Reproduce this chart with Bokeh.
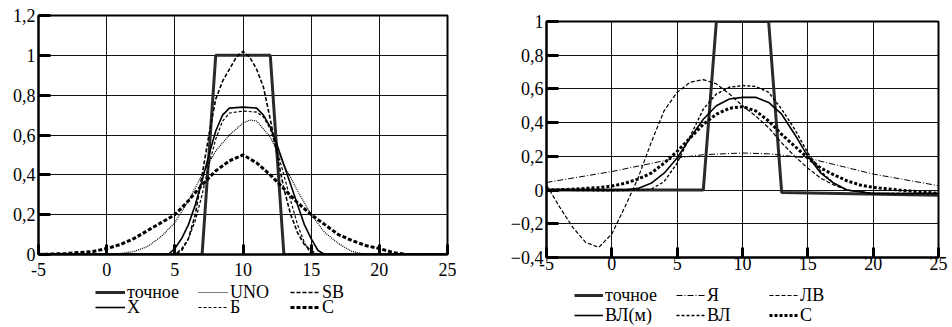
from bokeh.plotting import figure
from bokeh.layouts import row, column
from bokeh.models import FixedTicker, Legend, LegendItem
from bokeh.embed import file_html
from bokeh.resources import INLINE

FONT = "Liberation Serif"
NAN = float("nan")

# ---------------- data: left panel ----------------
x_ticks = [-5, 0, 5, 10, 15, 20, 25]
x_labels = ["-5", "0", "5", "10", "15", "20", "25"]
yl_ticks = [0, 0.2, 0.4, 0.6, 0.8, 1, 1.2]
yl_labels = ["0", "0,2", "0,4", "0,6", "0,8", "1", "1,2"]

lx_exact = [-5, 7, 8, 12, 13, 25]
ly_exact = [0, 0, 1, 1, 0, 0]

lx_uno = [-5, 0, 1, 2, 3, 4, 5, 6, 7, 8, 9, 10, 10.5, 11, 12, 13, 14, 15, 16, 17, 18, 19, 25]
ly_uno = [0, 0, 0.005, 0.015, 0.04, 0.09, 0.16, 0.27, 0.4, 0.52, 0.6, 0.66, 0.675, 0.67, 0.59, 0.45, 0.32, 0.2, 0.11, 0.055, 0.015, 0, 0]

lx_sb = [-5, 5, 5.5, 6, 6.5, 7, 7.5, 8, 8.5, 9, 9.5, 10, 10.5, 11, 11.5, 12, 12.5, 13, 13.5, 14, 14.5, 15, 15.5, 25]
ly_sb = [0, 0, 0.02, 0.08, 0.2, 0.4, 0.6, 0.78, 0.87, 0.93, 0.99, 1.02, 0.99, 0.93, 0.84, 0.68, 0.5, 0.33, 0.2, 0.11, 0.05, 0.02, 0, 0]

lx_x = [-5, 4.5, 5, 5.5, 6, 6.5, 7, 7.5, 8, 8.5, 9, 10, 11, 11.5, 12, 12.5, 13, 13.5, 14, 14.5, 15, 15.5, 16, 25]
ly_x = [0, 0, 0.03, 0.08, 0.15, 0.25, 0.37, 0.5, 0.62, 0.7, 0.735, 0.74, 0.735, 0.7, 0.64, 0.55, 0.45, 0.35, 0.25, 0.15, 0.08, 0.02, 0, 0]

lx_b = [-5, 5, 5.5, 6, 6.5, 7, 7.5, 8, 8.5, 9, 10, 11, 11.5, 12, 12.5, 13, 13.5, 14, 14.5, 15, 25]
ly_b = [0, 0, 0.03, 0.08, 0.17, 0.3, 0.45, 0.58, 0.67, 0.71, 0.72, 0.715, 0.69, 0.63, 0.52, 0.4, 0.27, 0.15, 0.06, 0, 0]

lx_c = [-5, -3, -1, 0, 1, 2, 3, 4, 5, 6, 7, 8, 9, 10, 11, 12, 13, 14, 15, 16, 17, 18, 19, 20, 21, 22, 25]
ly_c = [0, 0.005, 0.015, 0.03, 0.05, 0.08, 0.12, 0.16, 0.2, 0.27, 0.35, 0.42, 0.47, 0.5, 0.46, 0.4, 0.33, 0.26, 0.2, 0.15, 0.1, 0.07, 0.045, 0.03, 0.01, 0, 0]

left_names = ["точное", "UNO", "SB", "X", "Б", "С"]

# ---------------- data: right panel ----------------
yr_ticks = [-0.4, -0.2, 0, 0.2, 0.4, 0.6, 0.8, 1]
yr_labels = ["\u22120,4", "\u22120,2", "0", "0,2", "0,4", "0,6", "0,8", "1"]

rx_exact = [-5, 7, 8, 12, 13, 25]
ry_exact = [0, 0, 1, 1, -0.015, -0.03]

rx_ya = [-5, 0, 5, 7, 10, 12, 15, 20, 25]
ry_ya = [0.045, 0.11, 0.19, 0.21, 0.22, 0.215, 0.19, 0.095, 0.026]

rx_lv = [-5, -4, -3, -2, -1, 0, 1, 2, 3, 4, 5, 6, 7, 8, 9, 10, 11, 12, 13, 14, 15, 16, 17, 18, 19, 20, 25]
ry_lv = [0.03, -0.1, -0.22, -0.31, -0.34, -0.26, -0.1, 0.07, 0.28, 0.47, 0.58, 0.64, 0.655, 0.63, 0.57, 0.5, 0.44, 0.37, 0.28, 0.2, 0.13, 0.07, 0.03, 0, -0.01, -0.02, -0.02]

rx_vlm = [-5, 0, 1, 2, 3, 4, 5, 6, 7, 8, 9, 10, 11, 12, 13, 14, 15, 16, 17, 18, 20, 25]
ry_vlm = [0, 0, 0, 0.01, 0.04, 0.1, 0.19, 0.31, 0.42, 0.5, 0.54, 0.55, 0.55, 0.52, 0.45, 0.33, 0.2, 0.1, 0.04, 0.0, -0.02, -0.02]

rx_vl = [-5, 0, 2, 3, 4, 5, 6, 7, 8, 9, 10, 11, 12, 13, 14, 15, 16, 17, 18, 20, 25]
ry_vl = [0, -0.005, 0, 0.005, 0.05, 0.16, 0.32, 0.48, 0.57, 0.61, 0.62, 0.615, 0.58, 0.48, 0.36, 0.22, 0.11, 0.04, 0.0, -0.02, -0.02]

rx_c = [-5, -3, -1, 0, 1, 2, 3, 4, 5, 6, 7, 8, 9, 10, 11, 12, 13, 14, 15, 16, 17, 18, 19, 20, 22, 25]
ry_c = [0, 0.005, 0.015, 0.024, 0.04, 0.065, 0.1, 0.16, 0.23, 0.31, 0.39, 0.45, 0.485, 0.495, 0.47, 0.41, 0.33, 0.26, 0.19, 0.13, 0.09, 0.055, 0.03, 0.016, 0, -0.02]

right_names = ["точное", "Я", "ЛВ", "ВЛ(м)", "ВЛ", "С"]

# ---------------- styles ----------------
S_EXACT = dict(line_color="#2a2a2a", line_width=3)
S_UNO = dict(line_color="black", line_width=1.2, line_dash="1 1")
S_SB = dict(line_color="black", line_width=1.6, line_dash="4 2")
S_X = dict(line_color="black", line_width=1.6)
S_B = dict(line_color="black", line_width=1.2, line_dash="3 2")
S_C = dict(line_color="black", line_width=3, line_dash="4 2")
S_YA = dict(line_color="black", line_width=1, line_dash="6 2 1 2")
S_LV = dict(line_color="black", line_width=1.2, line_dash="4 2")
S_VLM = dict(line_color="black", line_width=1.6)
S_VL = dict(line_color="black", line_width=1.4, line_dash="3 2")
S_CR = dict(line_color="black", line_width=3, line_dash="3 2")


def make_fig(width, height, bl, bt, br, bb, y_range, yticks, ylabels, xstand, ystand):
    p = figure(width=width, height=height, x_range=(-5, 25), y_range=y_range,
               output_backend="svg", toolbar_location=None,
               min_border_left=bl, min_border_top=bt, min_border_right=br, min_border_bottom=bb,
               background_fill_color="white", border_fill_color="white")
    p.xaxis.ticker = FixedTicker(ticks=x_ticks)
    p.yaxis.ticker = FixedTicker(ticks=yticks)
    p.xaxis.major_label_overrides = dict(zip(x_ticks, x_labels))
    p.yaxis.major_label_overrides = dict(zip(yticks, ylabels))
    p.xgrid.ticker = FixedTicker(ticks=x_ticks)
    p.ygrid.ticker = FixedTicker(ticks=yticks)
    for g in (p.xgrid, p.ygrid):
        g.grid_line_color = "#111111"
        g.grid_line_width = 1
        g.grid_line_alpha = 1
    for ax in (p.xaxis, p.yaxis):
        ax.axis_line_color = "black"
        ax.axis_line_width = 2
        ax.major_tick_out = 0
        ax.major_tick_line_width = 3
        ax.major_tick_line_color = "black"
        ax.minor_tick_line_color = None
        ax.major_label_text_font = FONT
        ax.major_label_text_font_size = "18px"
        ax.major_label_text_color = "black"
    p.xaxis.major_tick_in = 10
    p.yaxis.major_tick_in = 12
    p.xaxis.major_label_standoff = xstand
    p.yaxis.major_label_standoff = ystand
    p.outline_line_color = "black"
    p.outline_line_width = 2
    p.outline_line_alpha = 1
    return p


def legend_fig(width, height, bl, br):
    q = figure(width=width, height=height, x_range=(0, 1), y_range=(0, 1),
               output_backend="svg", toolbar_location=None,
               x_axis_type=None, y_axis_type=None,
               min_border_left=bl, min_border_right=br,
               min_border_top=0, min_border_bottom=0,
               background_fill_color="white", border_fill_color="white")
    q.xgrid.visible = False
    q.ygrid.visible = False
    q.outline_line_color = None
    return q


def add_item(q, label, style, x, y, gw):
    rend = q.line(x=[NAN, NAN], y=[NAN, NAN], **style)
    leg = Legend(items=[LegendItem(label=label, renderers=[rend])], location=(x, y),
                 padding=0, margin=0, spacing=0, glyph_width=gw, glyph_height=22,
                 label_height=22, label_standoff=2, label_text_font=FONT,
                 label_text_font_size="18px", label_text_color="black",
                 background_fill_alpha=0, border_line_alpha=0)
    q.add_layout(leg, "center")


# ---------------- left figure ----------------
p1 = make_fig(476, 280, 38, 15, 29, 26, (0, 1.2), yl_ticks, yl_labels, 8, 3)
p1.line(lx_exact, ly_exact, **S_EXACT)
p1.line(lx_uno, ly_uno, **S_UNO)
p1.line(lx_sb, ly_sb, **S_SB)
p1.line(lx_x, ly_x, **S_X)
p1.line(lx_b, ly_b, **S_B)
p1.line(lx_c, ly_c, **S_C)

q1 = legend_fig(476, 47, 38, 29)
left_styles = [S_EXACT, S_UNO, S_SB, S_X, S_B, S_C]
left_pos = [(57, 24), (160, 24), (252, 24), (57, 9), (160, 9), (252, 9)]
for name, st, (lx, ly) in zip(left_names, left_styles, left_pos):
    add_item(q1, name, st, lx, ly, 30)

# ---------------- right figure ----------------
p2 = make_fig(476, 280, 70, 21, 14, 23, (-0.4, 1), yr_ticks, yr_labels, -1, 3)
p2.line(rx_exact, ry_exact, **S_EXACT)
p2.line(rx_ya, ry_ya, **S_YA)
p2.line(rx_lv, ry_lv, **S_LV)
p2.line(rx_vlm, ry_vlm, **S_VLM)
p2.line(rx_vl, ry_vl, **S_VL)
p2.line(rx_c, ry_c, **S_CR)

q2 = legend_fig(476, 47, 70, 14)
right_styles = [S_EXACT, S_YA, S_LV, S_VLM, S_VL, S_CR]
right_pos = [(28, 21), (130, 21), (223, 21), (28, 1), (130, 1), (223, 1)]
for name, st, (lx, ly) in zip(right_names, right_styles, right_pos):
    add_item(q2, name, st, lx, ly, 29)

layout = row(column(p1, q1, spacing=0), column(p2, q2, spacing=0), spacing=0)
open("out.html", "w").write(file_html(layout, INLINE))
